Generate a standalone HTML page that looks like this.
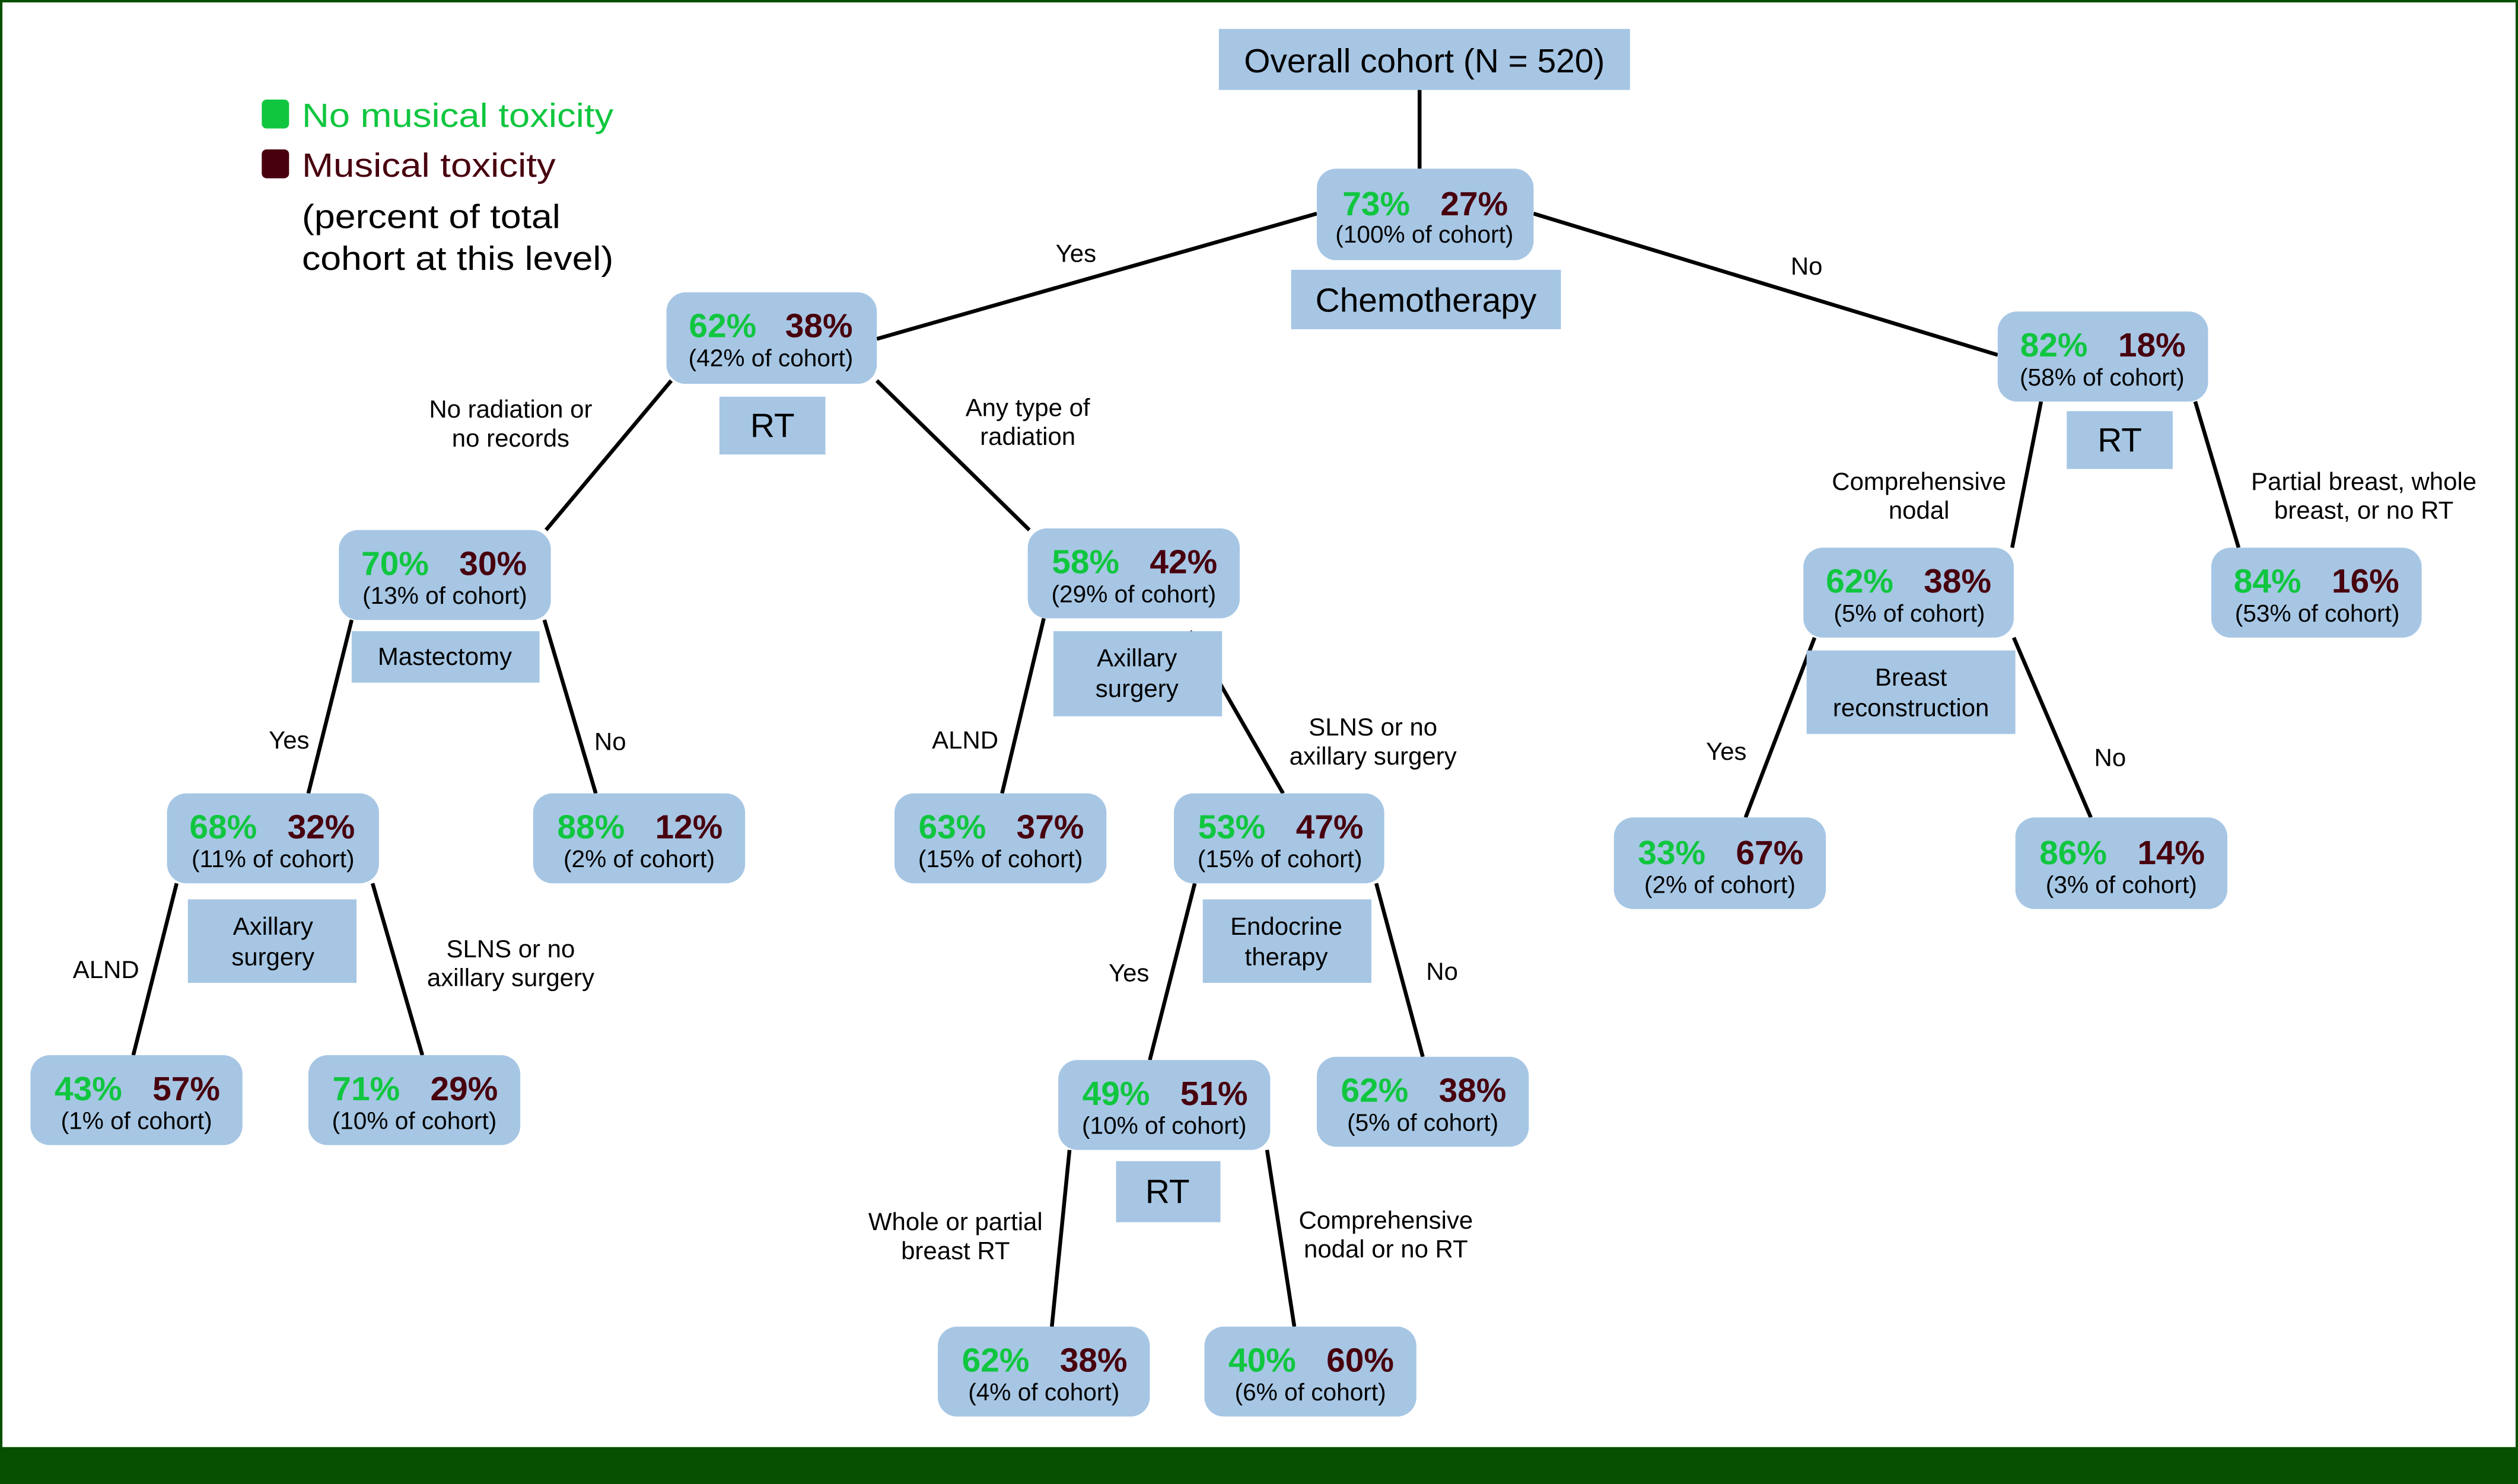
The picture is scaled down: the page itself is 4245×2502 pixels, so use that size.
<!DOCTYPE html>
<html><head><meta charset="utf-8"><style>
html,body{margin:0;padding:0;background:#fff}
svg{display:block}
text{font-family:"Liberation Sans Narrow","Liberation Sans",sans-serif}
.w{font-family:"Liberation Sans",sans-serif}
.p{font-size:21px;font-weight:bold}
.g{fill:#10c63f}.m{fill:#48000e}
.s{font-size:15px}
.l{font-size:15.5px}
.n{fill:#a6c6e4}
line{stroke:#000;stroke-width:2.4}
</style></head><body>
<svg width="4245" height="2502" viewBox="0 0 1568 924" preserveAspectRatio="none" xmlns="http://www.w3.org/2000/svg">
<rect x="0" y="0" width="1568" height="924" fill="#fff"/>
<rect x="0.7" y="0.7" width="1566.6" height="910" fill="none" stroke="#075000" stroke-width="1.6"/>
<rect x="0" y="901" width="1568" height="23" fill="#075000"/>

<!-- legend -->
<rect x="163" y="62" width="17" height="18" rx="3" fill="#10c63f"/>
<rect x="163" y="93" width="17" height="18" rx="3" fill="#48000e"/>
<text x="188" y="79" font-size="21" fill="#10c63f" textLength="194" lengthAdjust="spacingAndGlyphs">No musical toxicity</text>
<text x="188" y="110" font-size="21" fill="#48000e" textLength="158" lengthAdjust="spacingAndGlyphs">Musical toxicity</text>
<text x="188" y="142" font-size="21" textLength="161" lengthAdjust="spacingAndGlyphs">(percent of total</text>
<text x="188" y="168" font-size="21" textLength="194" lengthAdjust="spacingAndGlyphs">cohort at this level)</text>

<!-- lines -->
<line x1="884" y1="56" x2="884" y2="105"/>
<line x1="820" y1="133" x2="546" y2="211"/>
<line x1="955" y1="133" x2="1244" y2="221"/>
<line x1="418" y1="237" x2="340" y2="330"/>
<line x1="546" y1="237" x2="641" y2="330"/>
<line x1="219" y1="386" x2="192" y2="494"/>
<line x1="339" y1="386" x2="371" y2="494"/>
<line x1="110" y1="550" x2="83" y2="657"/>
<line x1="232" y1="550" x2="263" y2="657"/>
<line x1="650" y1="385" x2="624" y2="494"/>
<line x1="741" y1="393" x2="799" y2="494"/>
<line x1="744" y1="550" x2="716" y2="660"/>
<line x1="857" y1="550" x2="886" y2="658"/>
<line x1="666" y1="716" x2="655" y2="826"/>
<line x1="789" y1="716" x2="806" y2="826"/>
<line x1="1271" y1="250" x2="1253" y2="341"/>
<line x1="1367" y1="250" x2="1394" y2="341"/>
<line x1="1130" y1="397" x2="1087" y2="509"/>
<line x1="1254" y1="397" x2="1302" y2="509"/>

<!-- root -->
<rect class="n" x="759" y="18" width="256" height="38"/>
<text class="w" x="887" y="45" font-size="21" text-anchor="middle">Overall cohort (N = 520)</text>
<rect class="n" x="804" y="168" width="168" height="37"/>
<text class="w" x="888" y="194" font-size="21" text-anchor="middle">Chemotherapy</text>

<!-- nodes -->
<g text-anchor="middle">
<rect class="n" x="820" y="105" width="135" height="57" rx="12"/>
<text class="p g w" x="857" y="134">73%</text><text class="p m w" x="918" y="134">27%</text>
<text class="s w" x="887" y="151">(100% of cohort)</text>

<rect class="n" x="415" y="182" width="131" height="57" rx="12"/>
<text class="p g" x="450" y="210">62%</text><text class="p m" x="510" y="210">38%</text>
<text class="s" x="480" y="228">(42% of cohort)</text>

<rect class="n" x="1244" y="194" width="131" height="56" rx="12"/>
<text class="p g" x="1279" y="222">82%</text><text class="p m" x="1340" y="222">18%</text>
<text class="s" x="1309" y="240">(58% of cohort)</text>

<rect class="n" x="211" y="330" width="132" height="56" rx="12"/>
<text class="p g" x="246" y="358">70%</text><text class="p m" x="307" y="358">30%</text>
<text class="s" x="277" y="376">(13% of cohort)</text>

<rect class="n" x="640" y="329" width="132" height="56" rx="12"/>
<text class="p g" x="676" y="357">58%</text><text class="p m" x="737" y="357">42%</text>
<text class="s" x="706" y="375">(29% of cohort)</text>

<rect class="n" x="104" y="494" width="132" height="56" rx="12"/>
<text class="p g" x="139" y="522">68%</text><text class="p m" x="200" y="522">32%</text>
<text class="s" x="170" y="540">(11% of cohort)</text>

<rect class="n" x="332" y="494" width="132" height="56" rx="12"/>
<text class="p g" x="368" y="522">88%</text><text class="p m" x="429" y="522">12%</text>
<text class="s" x="398" y="540">(2% of cohort)</text>

<rect class="n" x="19" y="657" width="132" height="56" rx="12"/>
<text class="p g" x="55" y="685">43%</text><text class="p m" x="116" y="685">57%</text>
<text class="s" x="85" y="703">(1% of cohort)</text>

<rect class="n" x="192" y="657" width="132" height="56" rx="12"/>
<text class="p g" x="228" y="685">71%</text><text class="p m" x="289" y="685">29%</text>
<text class="s" x="258" y="703">(10% of cohort)</text>

<rect class="n" x="557" y="494" width="132" height="56" rx="12"/>
<text class="p g" x="593" y="522">63%</text><text class="p m" x="654" y="522">37%</text>
<text class="s" x="623" y="540">(15% of cohort)</text>

<rect class="n" x="731" y="494" width="131" height="56" rx="12"/>
<text class="p g" x="767" y="522">53%</text><text class="p m" x="828" y="522">47%</text>
<text class="s" x="797" y="540">(15% of cohort)</text>

<rect class="n" x="659" y="660" width="132" height="56" rx="12"/>
<text class="p g" x="695" y="688">49%</text><text class="p m" x="756" y="688">51%</text>
<text class="s" x="725" y="706">(10% of cohort)</text>

<rect class="n" x="820" y="658" width="132" height="56" rx="12"/>
<text class="p g" x="856" y="686">62%</text><text class="p m" x="917" y="686">38%</text>
<text class="s" x="886" y="704">(5% of cohort)</text>

<rect class="n" x="584" y="826" width="132" height="56" rx="12"/>
<text class="p g" x="620" y="854">62%</text><text class="p m" x="681" y="854">38%</text>
<text class="s" x="650" y="872">(4% of cohort)</text>

<rect class="n" x="750" y="826" width="132" height="56" rx="12"/>
<text class="p g" x="786" y="854">40%</text><text class="p m" x="847" y="854">60%</text>
<text class="s" x="816" y="872">(6% of cohort)</text>

<rect class="n" x="1123" y="341" width="131" height="56" rx="12"/>
<text class="p g" x="1158" y="369">62%</text><text class="p m" x="1219" y="369">38%</text>
<text class="s" x="1189" y="387">(5% of cohort)</text>

<rect class="n" x="1377" y="341" width="131" height="56" rx="12"/>
<text class="p g" x="1412" y="369">84%</text><text class="p m" x="1473" y="369">16%</text>
<text class="s" x="1443" y="387">(53% of cohort)</text>

<rect class="n" x="1005" y="509" width="132" height="57" rx="12"/>
<text class="p g" x="1041" y="538">33%</text><text class="p m" x="1102" y="538">67%</text>
<text class="s" x="1071" y="556">(2% of cohort)</text>

<rect class="n" x="1255" y="509" width="132" height="57" rx="12"/>
<text class="p g" x="1291" y="538">86%</text><text class="p m" x="1352" y="538">14%</text>
<text class="s" x="1321" y="556">(3% of cohort)</text>

<!-- variable labels -->
<rect class="n" x="448" y="247" width="66" height="36"/><text x="481" y="272" font-size="21">RT</text>
<rect class="n" x="1287" y="256" width="66" height="36"/><text x="1320" y="281" font-size="21">RT</text>
<rect class="n" x="695" y="723" width="65" height="38"/><text x="727" y="749" font-size="21">RT</text>
<rect class="n" x="219" y="393" width="117" height="32"/><text class="l" x="277" y="414">Mastectomy</text>
<rect class="n" x="656" y="393" width="105" height="53"/><text class="l" x="708" y="415">Axillary</text><text class="l" x="708" y="434">surgery</text>
<rect class="n" x="117" y="560" width="105" height="52"/><text class="l" x="170" y="582">Axillary</text><text class="l" x="170" y="601">surgery</text>
<rect class="n" x="749" y="560" width="105" height="52"/><text class="l" x="801" y="582">Endocrine</text><text class="l" x="801" y="601">therapy</text>
<rect class="n" x="1125" y="405" width="130" height="52"/><text class="l" x="1190" y="427">Breast</text><text class="l" x="1190" y="446">reconstruction</text>

<!-- edge labels -->
<text class="l" x="670" y="163">Yes</text>
<text class="l" x="1125" y="171">No</text>
<text class="l" x="318" y="260">No radiation or</text><text class="l" x="318" y="278">no records</text>
<text class="l" x="640" y="259">Any type of</text><text class="l" x="640" y="277">radiation</text>
<text class="l" x="180" y="466">Yes</text>
<text class="l" x="380" y="467">No</text>
<text class="l" x="66" y="609">ALND</text>
<text class="l" x="318" y="596">SLNS or no</text><text class="l" x="318" y="614">axillary surgery</text>
<text class="l" x="601" y="466">ALND</text>
<text class="l" x="855" y="458">SLNS or no</text><text class="l" x="855" y="476">axillary surgery</text>
<text class="l" x="703" y="611">Yes</text>
<text class="l" x="898" y="610">No</text>
<text class="l" x="595" y="766">Whole or partial</text><text class="l" x="595" y="784">breast RT</text>
<text class="l" x="863" y="765">Comprehensive</text><text class="l" x="863" y="783">nodal or no RT</text>
<text class="l" x="1195" y="305">Comprehensive</text><text class="l" x="1195" y="323">nodal</text>
<text class="l" x="1472" y="305">Partial breast, whole</text><text class="l" x="1472" y="323">breast, or no RT</text>
<text class="l" x="1075" y="473">Yes</text>
<text class="l" x="1314" y="477">No</text>
</g>
</svg>
</body></html>
